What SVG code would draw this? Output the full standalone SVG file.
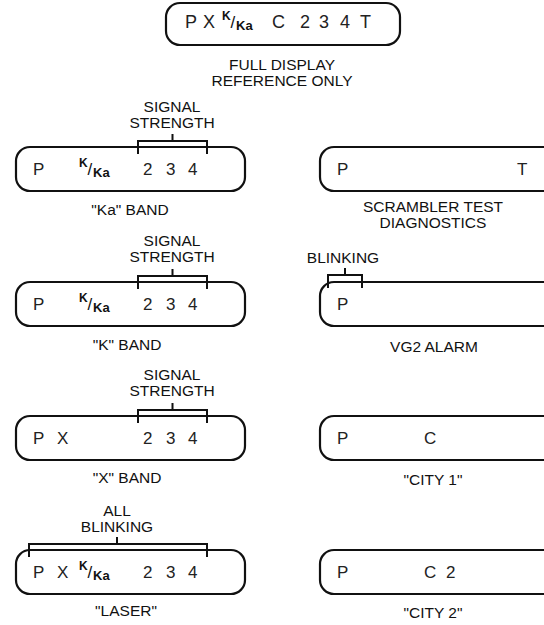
<svg xmlns="http://www.w3.org/2000/svg" width="544" height="625" viewBox="0 0 544 625">
<style>
.box{fill:none;stroke:#111;stroke-width:2.2}
.br{fill:none;stroke:#111;stroke-width:2}
.d{font-family:"Liberation Sans",Arial,sans-serif;font-size:17px;fill:#222}
.dt{font-family:"Liberation Sans",Arial,sans-serif;font-size:18px;fill:#222}
.k{font-family:"Liberation Sans",Arial,sans-serif;font-size:12px;font-weight:bold;fill:#111}
.ka{font-family:"Liberation Sans",Arial,sans-serif;font-size:13px;font-weight:bold;fill:#111}
.sl{font-family:"Liberation Sans",Arial,sans-serif;font-size:17px;fill:#111}
.lb{font-family:"Liberation Sans",Arial,sans-serif;font-size:15.5px;fill:#111;text-anchor:middle}
</style>
<rect width="544" height="625" fill="#fff"/>

<g id="full-display">
<rect class="box" x="166" y="3" width="234" height="42" rx="14"/>
<text class="dt" x="185" y="28">P</text>
<text class="dt" x="203" y="28">X</text>
<text class="k" x="222" y="20">K</text>
<text class="sl" x="230.5" y="28">/</text>
<text class="ka" x="236" y="30">Ka</text>
<text class="dt" x="272" y="28">C</text>
<text class="dt" x="300" y="28">2</text>
<text class="dt" x="319" y="28">3</text>
<text class="dt" x="340" y="28">4</text>
<text class="dt" x="360" y="28">T</text>
<text class="lb" x="282" y="70">FULL DISPLAY</text>
<text class="lb" x="282" y="86">REFERENCE ONLY</text>
</g>

<g id="ka-band">
<rect class="box" x="16" y="147" width="229" height="44" rx="14"/>
<text class="d" x="33" y="175">P</text>
<text class="k" x="79" y="167">K</text>
<text class="sl" x="87.5" y="175">/</text>
<text class="ka" x="93" y="177">Ka</text>
<text class="d" x="143" y="175">2</text>
<text class="d" x="166" y="175">3</text>
<text class="d" x="188" y="175">4</text>
<text class="lb" x="172" y="112">SIGNAL</text>
<text class="lb" x="172" y="128">STRENGTH</text>
<text class="lb" x="130" y="215">"Ka" BAND</text>
</g>

<g id="k-band">
<rect class="box" x="16" y="282" width="229" height="44" rx="14"/>
<text class="d" x="33" y="310">P</text>
<text class="k" x="79" y="302">K</text>
<text class="sl" x="87.5" y="310">/</text>
<text class="ka" x="93" y="312">Ka</text>
<text class="d" x="143" y="310">2</text>
<text class="d" x="166" y="310">3</text>
<text class="d" x="188" y="310">4</text>
<text class="lb" x="172" y="246">SIGNAL</text>
<text class="lb" x="172" y="262">STRENGTH</text>
<text class="lb" x="127" y="350">"K" BAND</text>
</g>

<g id="x-band">
<rect class="box" x="16" y="416" width="229" height="44" rx="14"/>
<text class="d" x="33" y="444">P</text>
<text class="d" x="57" y="444">X</text>
<text class="d" x="143" y="444">2</text>
<text class="d" x="166" y="444">3</text>
<text class="d" x="188" y="444">4</text>
<text class="lb" x="172" y="380">SIGNAL</text>
<text class="lb" x="172" y="396">STRENGTH</text>
<text class="lb" x="127" y="483">"X" BAND</text>
</g>

<g id="laser">
<rect class="box" x="16" y="550" width="229" height="44" rx="14"/>
<text class="d" x="33" y="578">P</text>
<text class="d" x="57" y="578">X</text>
<text class="k" x="79" y="570">K</text>
<text class="sl" x="87.5" y="578">/</text>
<text class="ka" x="93" y="580">Ka</text>
<text class="d" x="143" y="578">2</text>
<text class="d" x="166" y="578">3</text>
<text class="d" x="188" y="578">4</text>
<text class="lb" x="117" y="516">ALL</text>
<text class="lb" x="117" y="532">BLINKING</text>
<text class="lb" x="126" y="616">"LASER"</text>
</g>

<g id="scrambler-test">
<rect class="box" x="320" y="147" width="240" height="44" rx="14"/>
<text class="d" x="337" y="175">P</text>
<text class="d" x="517" y="175">T</text>
<text class="lb" x="433" y="212">SCRAMBLER TEST</text>
<text class="lb" x="433" y="228">DIAGNOSTICS</text>
</g>

<g id="vg2-alarm">
<rect class="box" x="320" y="282" width="240" height="44" rx="14"/>
<text class="d" x="337" y="310">P</text>
<text class="lb" x="343" y="263">BLINKING</text>
<text class="lb" x="434" y="352">VG2 ALARM</text>
</g>

<g id="city-1">
<rect class="box" x="320" y="416" width="240" height="44" rx="14"/>
<text class="d" x="337" y="444">P</text>
<text class="d" x="424" y="444">C</text>
<text class="lb" x="433" y="485">"CITY 1"</text>
</g>

<g id="city-2">
<rect class="box" x="320" y="550" width="240" height="44" rx="14"/>
<text class="d" x="337" y="578">P</text>
<text class="d" x="424" y="578">C</text>
<text class="d" x="446" y="578">2</text>
<text class="lb" x="433" y="618">"CITY 2"</text>
</g>

<g id="connectors">
<path class="br" d="M138 154V141H207V154M172.5 141V134"/>
<path class="br" d="M138 289V276H207V289M172.5 276V269"/>
<path class="br" d="M138 423V410H207V423M172.5 410V403"/>
<path class="br" d="M29 557V544H207V557M117 544V537"/>
<path class="br" d="M328 288V275H362V288M345 275V268"/>
</g>
</svg>
